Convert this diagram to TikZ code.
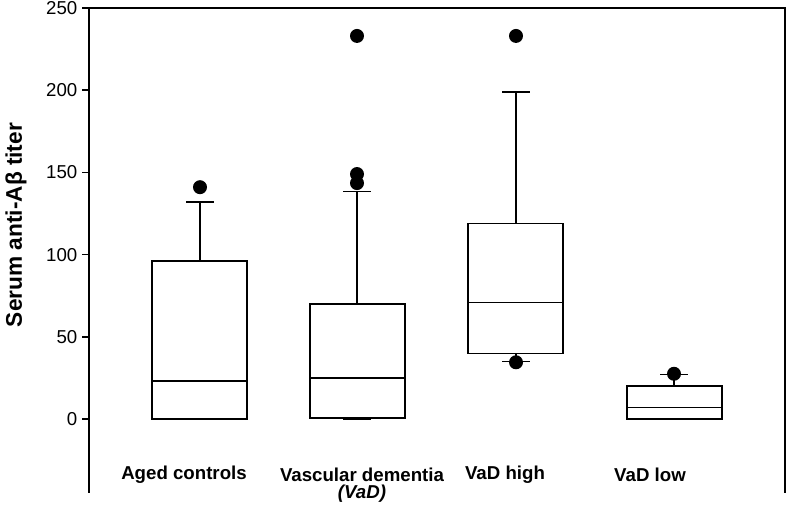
\documentclass[tikz,border=0pt]{standalone}
\usepackage{fontspec}
\setmainfont{Liberation Sans}
\begin{document}
\begin{tikzpicture}[x=0.75pt,y=-0.75pt,line width=1.1pt,
  lab/.style={font=\bfseries\fontsize{14}{16}\selectfont,inner sep=0pt},
  tick/.style={font=\fontsize{14}{16}\selectfont,anchor=east,inner sep=0pt},
  dot/.style={circle,fill=black,inner sep=0pt,minimum size=10.5pt}]
\useasboundingbox (0,0) rectangle (786,509);
\def\Y#1{{419-1.644*#1}}
% frame
\coordinate (tl) at (89,\Y{250});
\coordinate (tr) at (785,\Y{250});
\coordinate (bl) at (89,493);
\coordinate (br) at (785,493);
\draw (bl) -- (tl) -- (tr) -- (br);
\foreach \v in {0,50,100,150,200,250}{
  \draw (82,\Y{\v}) -- (89,\Y{\v});
  \node[tick] (t\v) at (78,\Y{\v}) {\v};
}
\node[lab,rotate=90,font=\bfseries\fontsize{17}{19}\selectfont] (ylab) at (16,\Y{118}) {Serum anti-Aβ titer};
% box 1
\draw (152,\Y{0}) rectangle (247,\Y{96});
\draw (152,\Y{23}) -- (247,\Y{23});
\draw (200,\Y{96}) -- (200,\Y{132}); \draw (186,\Y{132}) -- (214,\Y{132});
\node[dot] (d1) at (200,\Y{141}) {};
% box 2
\draw (310,\Y{0.5}) rectangle (405,\Y{70});
\draw (310,\Y{25}) -- (405,\Y{25});
\draw (357,\Y{70}) -- (357,\Y{138.5}); \draw (343,\Y{138.5}) -- (371,\Y{138.5});
\draw (343,\Y{0}) -- (371,\Y{0});
\node[dot] (d2a) at (357,\Y{143.5}) {};
\node[dot] (d2b) at (357,\Y{149}) {};
\node[dot] (d2c) at (357,\Y{233}) {};
% box 3
\draw (468,\Y{40}) rectangle (563,\Y{119});
\draw (468,\Y{71}) -- (563,\Y{71});
\draw (516,\Y{119}) -- (516,\Y{199}); \draw (502,\Y{199}) -- (530,\Y{199});
\draw (516,\Y{40}) -- (516,\Y{35}); \draw (502,\Y{35}) -- (530,\Y{35});
\node[dot] (d3a) at (516,\Y{34.5}) {};
\node[dot] (d3b) at (516,\Y{233}) {};
% box 4
\draw (627,\Y{0}) rectangle (722,\Y{20});
\draw (627,\Y{7}) -- (722,\Y{7});
\draw (674,\Y{20}) -- (674,\Y{27}); \draw (660,\Y{27}) -- (688,\Y{27});
\node[dot] (d4) at (674,\Y{27.5}) {};
% labels
\node[lab] (l1) at (184,475) {Aged controls};
\node[lab] (l2) at (362,475) {Vascular dementia};
\node[lab,font=\bfseries\itshape\fontsize{14}{16}\selectfont] (l2b) at (362,494) {(VaD)};
\node[lab] (l3) at (505,475) {VaD high};
\node[lab] (l4) at (650,475) {VaD low};
\end{tikzpicture}
\end{document}
